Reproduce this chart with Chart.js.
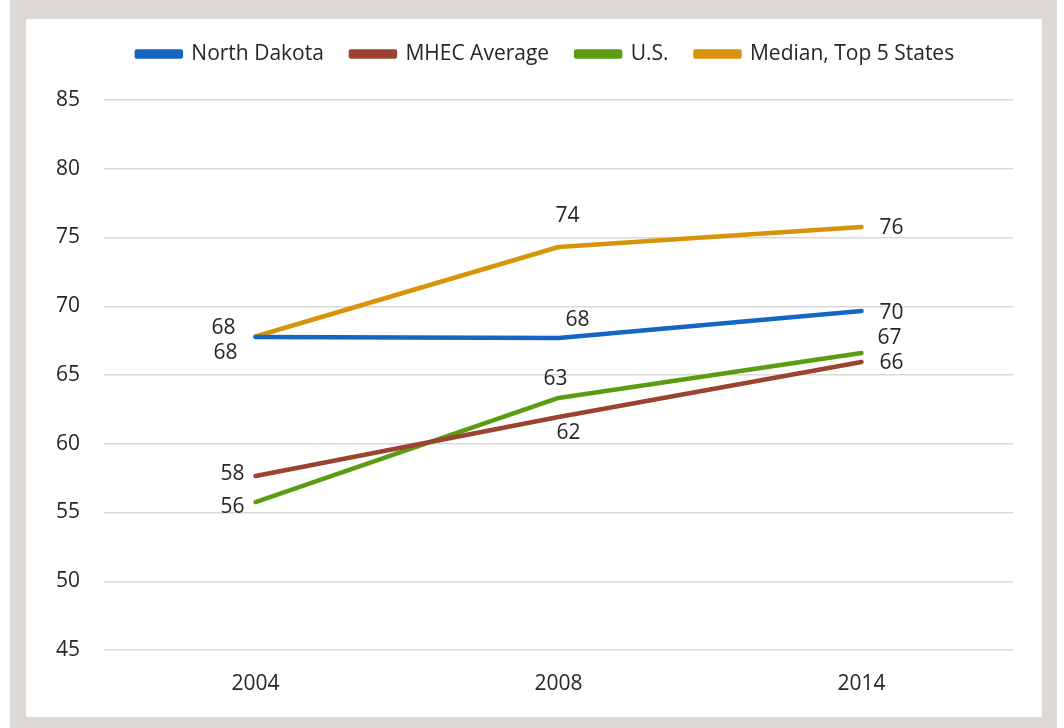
<!DOCTYPE html>
<html>
<head>
<meta charset="utf-8">
<script src="https://cdn.jsdelivr.net/npm/chart.js@4"></script>
<style>
  html, body { margin: 0; padding: 0; background: #ffffff; width: 1064px; height: 728px; overflow: hidden; }
  #frame { position: absolute; left: 10px; top: 0; width: 1047px; height: 728px; background: #dcd9d6; }
  #panel { position: absolute; left: 26px; top: 19px; width: 1016px; height: 698px; background: #ffffff; }
  canvas { display: block; }
</style>
</head>
<body>
<div id="frame"></div>
<div id="panel"><canvas id="c" width="1016" height="698"></canvas></div>
<script>
const categories = ['2004', '2008', '2014'];
const seriesNames = ['North Dakota', 'MHEC Average', 'U.S.', 'Median, Top 5 States'];
const northDakota = [67.76, 67.69, 69.65];
const mhecAverage = [57.65, 61.95, 65.95];
const us = [55.76, 63.33, 66.6];
const medianTop5 = [67.8, 74.31, 75.76];
const yTicks = [45, 50, 55, 60, 65, 70, 75, 80, 85];

const colors = ['#1466c2', '#9b4330', '#5a9c12', '#d79309'];
// label offsets (dx, dy) relative to each point, per series
const labelOffsets = [
  [[-30, 16], [19, -18], [30, 2]],
  [[-23, -2], [10, 16], [30, 1]],
  [[-23, 5], [-3, -19], [28, -15]],
  [[-32, -8], [9, -31], [30, 1]]
];

const FONT = "'Open Sans', sans-serif";

const dataLabels = {
  id: 'dataLabels',
  afterDatasetsDraw(chart) {
    const ctx = chart.ctx;
    ctx.save();
    ctx.font = "21px " + FONT;
    ctx.fillStyle = '#262626';
    ctx.textAlign = 'center';
    ctx.textBaseline = 'middle';
    chart.data.datasets.forEach((ds, di) => {
      const meta = chart.getDatasetMeta(di);
      meta.data.forEach((pt, i) => {
        const off = labelOffsets[di][i];
        ctx.fillText(String(Math.round(ds.data[i])), pt.x + off[0], pt.y + off[1]);
      });
    });
    ctx.restore();
  }
};

const legendPlacement = {
  id: 'legendPlacement',
  afterInit(chart) {
    const lg = chart.legend;
    if (!lg) return;
    const origFit = lg.fit;
    lg.fit = function () {
      origFit.call(this);
      this.height = 81;
    };
    const origDraw = lg.draw;
    lg.draw = function () {
      const ctx = this.ctx;
      ctx.save();
      ctx.translate(14, -2.5);
      origDraw.apply(this, arguments);
      ctx.restore();
    };
  }
};

const seriesData = [northDakota, mhecAverage, us, medianTop5];

new Chart(document.getElementById('c'), {
  type: 'line',
  data: {
    labels: categories,
    datasets: seriesNames.map((name, i) => ({
      label: name,
      data: seriesData[i],
      borderColor: colors[i],
      backgroundColor: colors[i],
      borderWidth: 4.5,
      borderCapStyle: 'round',
      borderJoinStyle: 'round',
      pointRadius: 0,
      tension: 0,
      fill: false
    }))
  },
  options: {
    responsive: false,
    animation: false,
    layout: { padding: { top: 0, left: 24, right: 29, bottom: 0 } },
    plugins: {
      legend: {
        position: 'top',
        labels: {
          font: { family: FONT, size: 21 },
          color: '#262626',
          boxWidth: 44,
          boxHeight: 5,
          padding: 27
        }
      },
      tooltip: { enabled: false }
    },
    scales: {
      x: {
        offset: true,
        grid: { display: false, drawTicks: false },
        border: { display: false },
        ticks: { font: { family: FONT, size: 21 }, color: '#262626', padding: 21 },
        afterFit(scale) { scale.height = 67; }
      },
      y: {
        min: 45,
        max: 85,
        afterBuildTicks(scale) { scale.ticks = yTicks.map(v => ({ value: v })); },
        grid: { color: '#d9d9d9', lineWidth: 1.5, drawTicks: false },
        border: { display: false },
        ticks: { font: { family: FONT, size: 21 }, color: '#262626', padding: 24 },
        afterFit(scale) { scale.width = 54; }
      }
    }
  },
  plugins: [dataLabels, legendPlacement]
});
</script>
</body>
</html>
